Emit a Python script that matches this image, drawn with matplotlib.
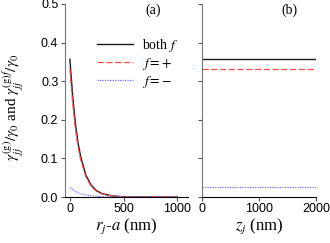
import matplotlib
matplotlib.use("Agg")
import matplotlib.pyplot as plt

# panel (a): rate vs distance r_j - a (nm)
r_nm = [0, 25, 50, 75, 100, 150, 200, 250, 300, 400, 500, 600, 800, 1000]
both_a = [0.357, 0.265, 0.194, 0.142, 0.105, 0.056, 0.030, 0.016, 0.0088, 0.0026, 0.0007, 0.0002, 0.0, 0.0]
plus_a = [0.332, 0.246, 0.179, 0.131, 0.097, 0.051, 0.027, 0.0143, 0.0078, 0.0023, 0.0006, 0.0002, 0.0, 0.0]
minus_a = [0.025, 0.019, 0.015, 0.011, 0.0085, 0.005, 0.003, 0.0017, 0.001, 0.0003, 0.0001, 0.0, 0.0, 0.0]

# panel (b): rate vs z_j (nm), flat
z_nm = [0, 500, 1000, 1500, 2000]
both_b = [0.357] * 5
plus_b = [0.332] * 5
minus_b = [0.025] * 5

plt.rcParams["mathtext.fontset"] = "stix"
plt.rcParams["font.family"] = ["Liberation Sans", "DejaVu Sans"]
SERIF = ["Liberation Serif", "DejaVu Serif"]
BLACK, RED, BLUE = "#1a1a1a", "#ff4a4a", "#6f6fff"

fig = plt.figure(figsize=(3.3, 2.43), dpi=100)
axa = fig.add_axes([64.5/330, 46/243, 123.5/330, 193/243])
axb = fig.add_axes([202/330, 46/243, 114/330, 193/243])

for ax in (axa, axb):
    for s in ("top", "right"):
        ax.spines[s].set_visible(False)
    ax.spines["left"].set_color("#777777")
    ax.spines["bottom"].set_color("black")
    ax.set_ylim(0, 0.5)
    ax.set_yticks([0, 0.1, 0.2, 0.3, 0.4, 0.5])
    ax.tick_params(direction="out", length=3, width=0.8, labelsize=9, pad=1.5,
                   colors="#555555", labelcolor="black")

axa.plot(r_nm, both_a, color=BLACK, lw=1.0, label=r"both $f$")
axa.plot(r_nm, plus_a, color=RED, lw=0.9, ls=(0, (5, 2)), label=r"$f = +$")
axa.plot(r_nm, minus_a, color=BLUE, lw=0.9, ls=(0, (1, 1)), label=r"$f = -$")
axa.set_xlim(-50, 1100)
axa.set_xticks([0, 500, 1000])
axa.set_yticklabels(["0.0", "0.1", "0.2", "0.3", "0.4", "0.5"])
axa.set_xlabel(r"$r_j$-$a$ (nm)", family=SERIF, fontsize=12, labelpad=1)
axa.set_ylabel(r"$\gamma_{jj}^{(\mathrm{g})}/\gamma_0$ and $\gamma_{jj}^{(\mathrm{g})f}/\gamma_0$",
               family=SERIF, fontsize=11)
axa.yaxis.set_label_coords(-0.31, 0.465)
axa.text(89/123.5, 1.0, "(a)", transform=axa.transAxes, family=SERIF, fontsize=10,
         ha="center", va="top")
leg = axa.legend(loc="upper left", bbox_to_anchor=(0.21, 0.865), frameon=False,
                 prop={"family": SERIF, "size": 10}, handlelength=2.6,
                 handletextpad=0.6, labelspacing=0.15, borderpad=0)

axb.plot(z_nm, both_b, color=BLACK, lw=1.0)
axb.plot(z_nm, plus_b, color=RED, lw=0.9, ls=(0, (5, 2)))
axb.plot(z_nm, minus_b, color=BLUE, lw=0.9, ls=(0, (1, 1)))
axb.set_xlim(0, 2000)
axb.set_xticks([0, 1000, 2000])
axb.set_yticklabels([])
axb.set_xlabel(r"$z_j$ (nm)", family=SERIF, fontsize=12, labelpad=1)
axb.text(0.77, 1.0, "(b)", transform=axb.transAxes, family=SERIF, fontsize=10,
         ha="center", va="top")

fig.savefig("out.png", dpi=100)
